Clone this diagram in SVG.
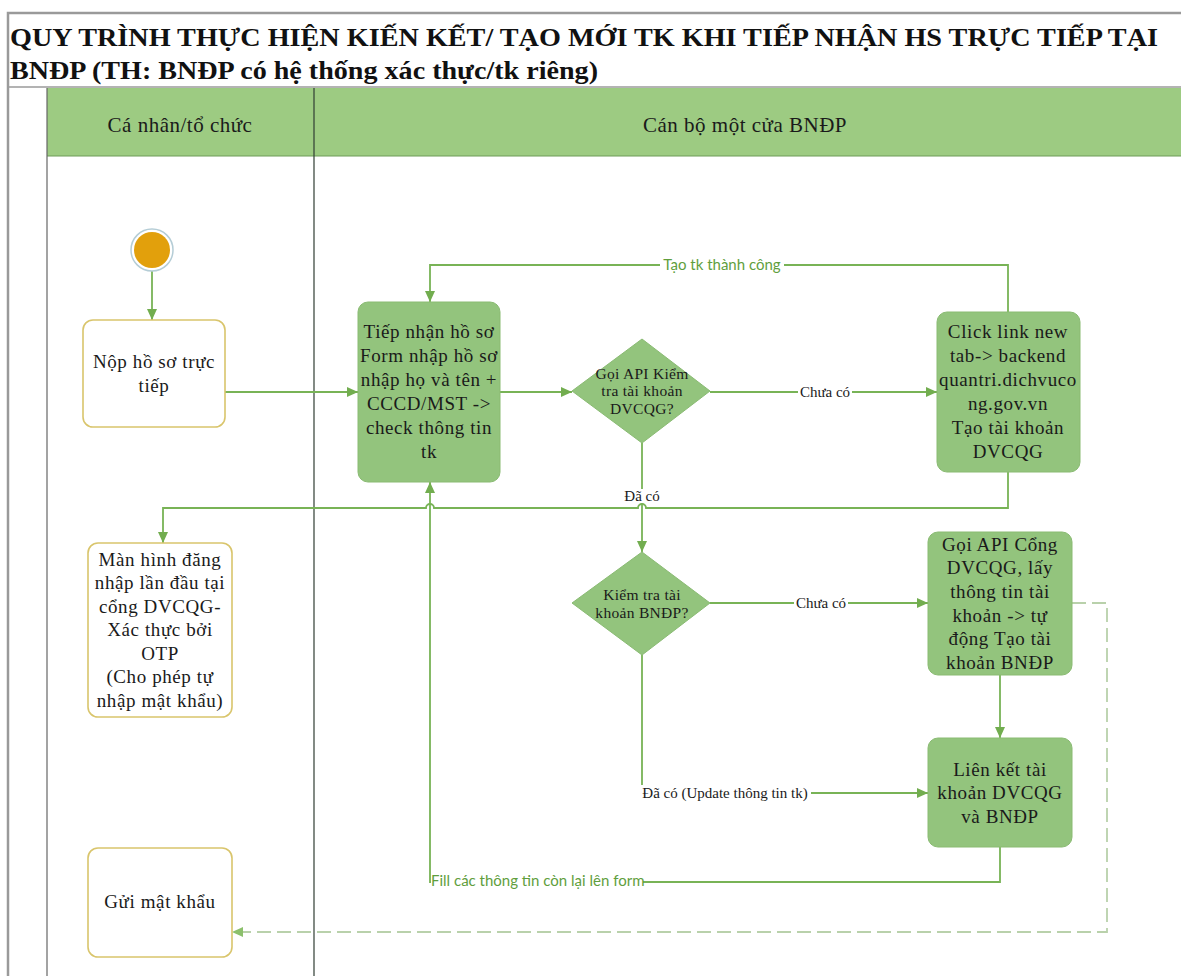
<svg xmlns="http://www.w3.org/2000/svg" width="1181" height="976" viewBox="0 0 1181 976">
<style>
  .title { font-family: "Liberation Serif", "Times New Roman", serif; font-weight: bold; font-size: 26px; fill: #111; }
  .hdr { font-family: "Liberation Serif", serif; font-size: 21px; letter-spacing: 0.5px; fill: #1a1a1a; text-anchor: middle; }
  .nt { font-family: "Liberation Serif", serif; font-size: 19px; letter-spacing: 0.6px; fill: #1a1a1a; text-anchor: middle; }
  .dt { font-family: "Liberation Serif", serif; font-size: 15.5px; letter-spacing: 0.3px; fill: #1a1a1a; text-anchor: middle; }
  .lbl { font-family: "Liberation Serif", serif; font-size: 15px; fill: #1a1a1a; text-anchor: middle; }
  .glbl { font-family: Lato, "Liberation Sans", sans-serif; font-size: 15px; fill: #5f9e3d; }
  .gnode { fill: #93c47d; stroke: #8abb73; stroke-width: 1; }
  .wnode { fill: #ffffff; stroke: #d9c56c; stroke-width: 1.6; }
  .con { fill: none; stroke: #78b356; stroke-width: 1.8; }
  .dash { fill: none; stroke: #b9d1ab; stroke-width: 1.8; stroke-dasharray: 14 6; }
  .bg { fill: #ffffff; }
</style>
<defs>
  <marker id="arr" markerUnits="userSpaceOnUse" markerWidth="12" markerHeight="12" refX="11" refY="6" orient="auto">
    <path d="M0,1 L11,6 L0,11 Z" fill="#72ad4f"/>
  </marker>
  <marker id="arrd" markerUnits="userSpaceOnUse" markerWidth="12" markerHeight="12" refX="11" refY="6" orient="auto">
    <path d="M0,1 L11,6 L0,11 Z" fill="#8cc06c"/>
  </marker>
</defs>
<rect x="0" y="0" width="1181" height="976" fill="#ffffff"/>
<g id="frame">
  <path d="M8 976 V13 H1181" fill="none" stroke="#9a9a9a" stroke-width="2.5"/>
  <line x1="8" y1="87" x2="1181" y2="87" stroke="#9a9a9a" stroke-width="1.5"/>
  <text class="title" x="10" y="46" textLength="1148" lengthAdjust="spacingAndGlyphs">QUY TRÌNH THỰC HIỆN KIẾN KẾT/ TẠO MỚI TK KHI TIẾP NHẬN HS TRỰC TIẾP TẠI</text>
  <text class="title" x="10" y="79" textLength="588" lengthAdjust="spacingAndGlyphs">BNĐP (TH: BNĐP có hệ thống xác thực/tk riêng)</text>
</g>
<g id="lanes">
  <rect x="47" y="88" width="1134" height="68" fill="#9dcb82"/>
  <line x1="47" y1="156" x2="1181" y2="156" stroke="#6f9c58" stroke-width="1.2"/>
  <line x1="47" y1="88" x2="47" y2="976" stroke="#666" stroke-width="1.2"/>
  <line x1="314" y1="88" x2="314" y2="976" stroke="#2f3d33" stroke-width="1.2"/>
  <text class="hdr" x="180" y="132">Cá nhân/tổ chức</text>
  <text class="hdr" x="745" y="132">Cán bộ một cửa BNĐP</text>
</g>
<g id="connectors">
  <path class="con" d="M152 271 V320" marker-end="url(#arr)"/>
  <path class="con" d="M225 392 H358" marker-end="url(#arr)"/>
  <path class="con" d="M500 392 H572" marker-end="url(#arr)"/>
  <path class="con" d="M710 392 H937" marker-end="url(#arr)"/>
  <path class="con" d="M1008 312 V265 H430 V302" marker-end="url(#arr)"/>
  <path class="con" d="M1008 472 V508 H646 A4 4 0 0 0 638 508 H434 A4 4 0 0 0 426 508 H163 V543" marker-end="url(#arr)"/>
  <path class="con" d="M642 443 V552" marker-end="url(#arr)"/>
  <path class="con" d="M710 603 H928" marker-end="url(#arr)"/>
  <path class="con" d="M1000 675 V738" marker-end="url(#arr)"/>
  <path class="con" d="M642 655 V793 H928" marker-end="url(#arr)"/>
  <path class="con" d="M1000 847 V882 H430 V482" marker-end="url(#arr)"/>
  <path class="dash" d="M1072 603 H1107 V932 H232" marker-end="url(#arrd)"/>
  <rect class="bg" x="660" y="257" width="124" height="17"/>
  <text class="glbl" x="722" y="270" text-anchor="middle">Tạo tk thành công</text>
  <rect class="bg" x="798" y="384" width="54" height="16"/>
  <text class="lbl" x="825" y="397">Chưa có</text>
  <rect class="bg" x="622" y="489" width="40" height="14"/>
  <text class="lbl" x="642" y="501">Đã có</text>
  <rect class="bg" x="794" y="595" width="54" height="16"/>
  <text class="lbl" x="821" y="608">Chưa có</text>
  <rect class="bg" x="639" y="785" width="172" height="16"/>
  <text class="lbl" x="725" y="798">Đã có (Update thông tin tk)</text>
  <rect class="bg" x="431" y="873" width="212" height="17"/>
  <text class="glbl" x="431" y="886">Fill các thông tin còn lại lên form</text>
</g>
<g id="start">
  <circle cx="152" cy="250" r="21" fill="#ffffff" stroke="#b5cdd6" stroke-width="1.5"/>
  <circle cx="152" cy="250" r="18" fill="#e2a00c"/>
</g>
<g id="n-nop">
  <rect class="wnode" x="83" y="320" width="142" height="107" rx="10"/>
  <text class="nt" x="154" y="368">Nộp hồ sơ trực</text>
  <text class="nt" x="154" y="392">tiếp</text>
</g>
<g id="n-tiepnhan">
  <rect class="gnode" x="358" y="302" width="142" height="180" rx="10"/>
  <text class="nt" x="429" y="338">Tiếp nhận hồ sơ</text>
  <text class="nt" x="429" y="362">Form nhập hồ sơ</text>
  <text class="nt" x="429" y="386">nhập họ và tên +</text>
  <text class="nt" x="429" y="410">CCCD/MST -&gt;</text>
  <text class="nt" x="429" y="434">check thông tin</text>
  <text class="nt" x="429" y="458">tk</text>
</g>
<g id="d-dvcqg">
  <polygon class="gnode" points="642,339 710,391 642,443 572,391"/>
  <text class="dt" x="642" y="379">Gọi API Kiểm</text>
  <text class="dt" x="642" y="396">tra tài khoản</text>
  <text class="dt" x="642" y="414">DVCQG?</text>
</g>
<g id="n-clicklink">
  <rect class="gnode" x="937" y="312" width="143" height="160" rx="10"/>
  <text class="nt" x="1008" y="338">Click link new</text>
  <text class="nt" x="1008" y="362">tab-&gt; backend</text>
  <text class="nt" x="1008" y="386">quantri.dichvuco</text>
  <text class="nt" x="1008" y="410">ng.gov.vn</text>
  <text class="nt" x="1008" y="434">Tạo tài khoản</text>
  <text class="nt" x="1008" y="458">DVCQG</text>
</g>
<g id="n-manhinh">
  <rect class="wnode" x="88" y="543" width="144" height="174" rx="10"/>
  <text class="nt" x="160" y="566">Màn hình đăng</text>
  <text class="nt" x="160" y="589">nhập lần đầu tại</text>
  <text class="nt" x="160" y="613">cổng DVCQG-</text>
  <text class="nt" x="160" y="636">Xác thực bởi</text>
  <text class="nt" x="160" y="660">OTP</text>
  <text class="nt" x="160" y="683">(Cho phép tự</text>
  <text class="nt" x="160" y="707">nhập mật khẩu)</text>
</g>
<g id="d-bndp">
  <polygon class="gnode" points="642,552 710,603 642,655 572,603"/>
  <text class="dt" x="642" y="600">Kiểm tra tài</text>
  <text class="dt" x="642" y="618">khoản BNĐP?</text>
</g>
<g id="n-goiapi">
  <rect class="gnode" x="928" y="532" width="144" height="143" rx="10"/>
  <text class="nt" x="1000" y="551">Gọi API Cổng</text>
  <text class="nt" x="1000" y="574">DVCQG, lấy</text>
  <text class="nt" x="1000" y="598">thông tin tài</text>
  <text class="nt" x="1000" y="622">khoản -&gt; tự</text>
  <text class="nt" x="1000" y="645">động Tạo tài</text>
  <text class="nt" x="1000" y="669">khoản BNĐP</text>
</g>
<g id="n-lienket">
  <rect class="gnode" x="928" y="738" width="144" height="109" rx="10"/>
  <text class="nt" x="1000" y="776">Liên kết tài</text>
  <text class="nt" x="1000" y="799">khoản DVCQG</text>
  <text class="nt" x="1000" y="823">và BNĐP</text>
</g>
<g id="n-gui">
  <rect class="wnode" x="88" y="848" width="144" height="109" rx="10"/>
  <text class="nt" x="160" y="908">Gửi mật khẩu</text>
</g>
</svg>
